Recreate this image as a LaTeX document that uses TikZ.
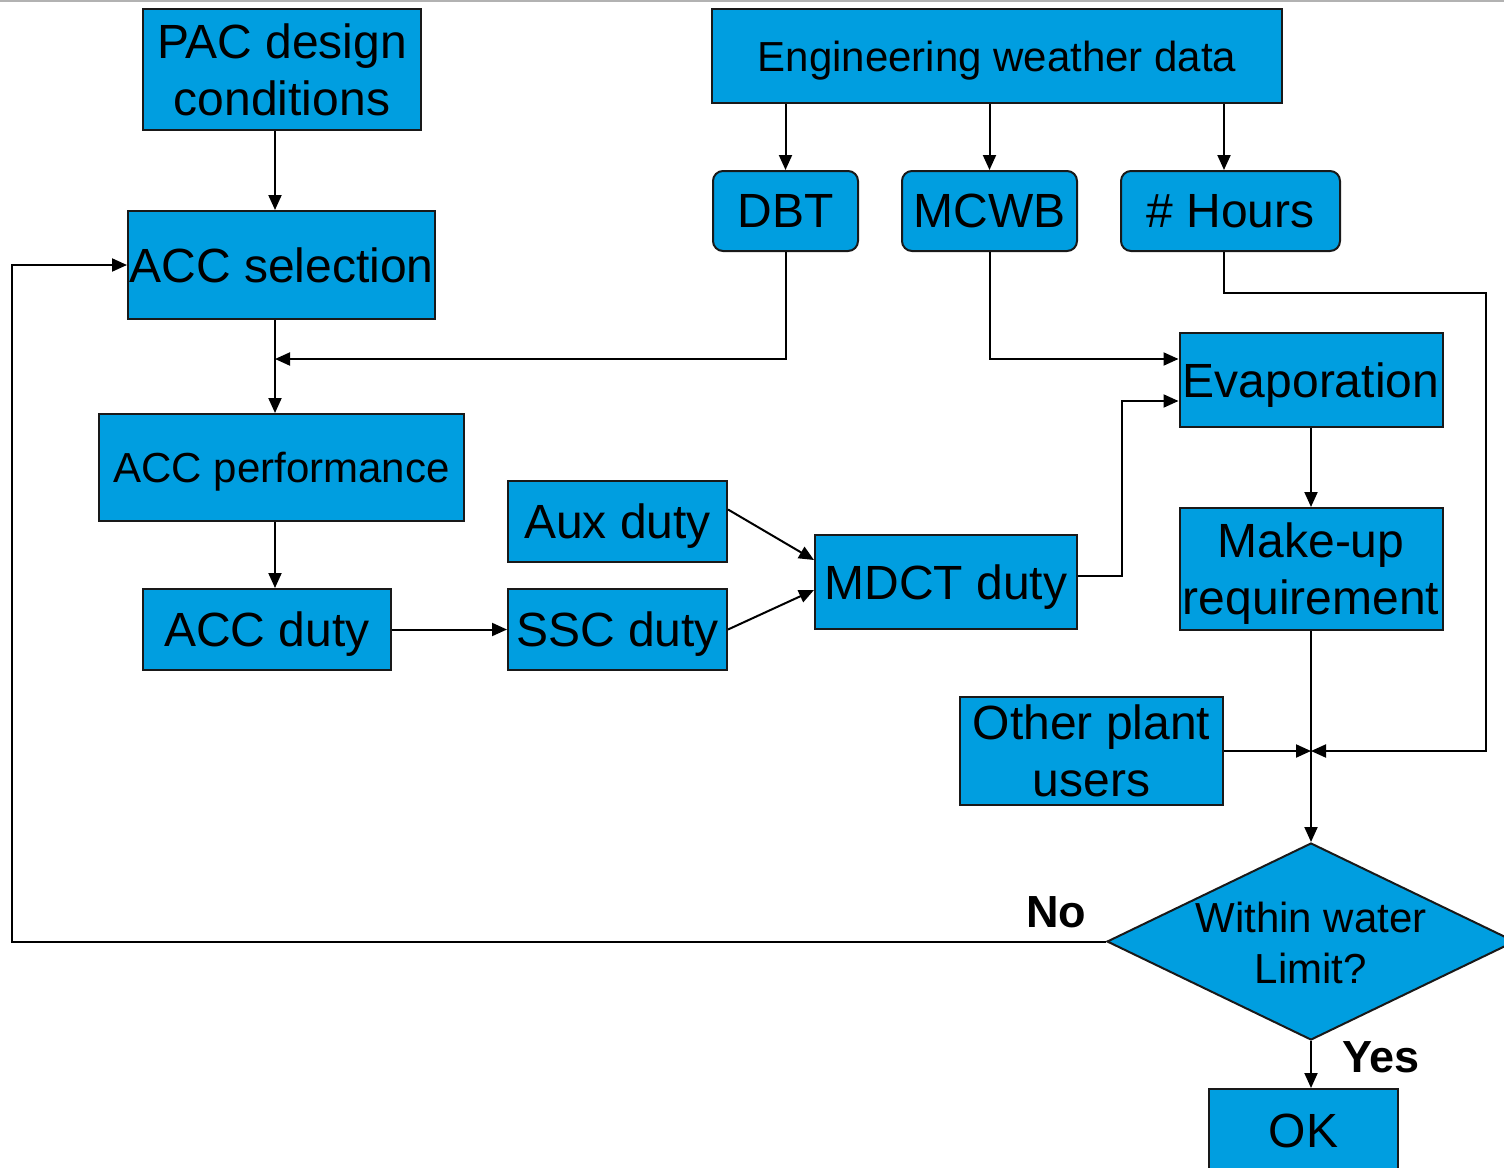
\documentclass[tikz,border=0pt]{standalone}
\usepackage{fontspec}
\setmainfont{Liberation Sans}
\usetikzlibrary{arrows.meta,shapes.geometric}
\definecolor{boxblue}{RGB}{0,158,224}
\begin{document}
\begin{tikzpicture}[x=1pt,y=-1pt,
  box/.style={draw=black!90, line width=2pt, fill=boxblue, inner sep=0pt, align=center, text depth=0pt, font=\fontsize{48}{57}\selectfont},
  rbox/.style={box, rounded corners=10pt},
  smalltxt/.style={font=\fontsize{42}{51}\selectfont},
  conn/.style={line width=2pt, -{Triangle[length=15pt,width=13pt]}},
  lbl/.style={font=\fontsize{45}{50}\selectfont\bfseries, inner sep=0pt}
]
\useasboundingbox (0,0) rectangle (1504,1167);
\draw[black!30, line width=1.5pt] (0,0.75) -- (1504,0.75);

\node[box, minimum width=278, minimum height=121] (pac) at (282,69.5) {PAC design\\conditions};
\node[box, smalltxt, minimum width=570, minimum height=94] (eng) at (997,56) {Engineering weather data};
\node[rbox, minimum width=145, minimum height=80] (dbt) at (785.5,211) {DBT};
\node[rbox, minimum width=175, minimum height=80] (mcwb) at (989.5,211) {MCWB};
\node[rbox, minimum width=219, minimum height=80] (hours) at (1230.5,211) {\# Hours};
\node[box, minimum width=307, minimum height=108] (accsel) at (281.5,265) {ACC selection};
\node[box, minimum width=263, minimum height=94] (evap) at (1311,380) {Evaporation};
\node[box, smalltxt, minimum width=365, minimum height=107] (accperf) at (281.5,467.5) {ACC performance};
\node[box, minimum width=219, minimum height=81] (aux) at (617.5,521.5) {Aux duty};
\node[box, minimum width=262, minimum height=94] (mdct) at (946,582) {MDCT duty};
\node[box, minimum width=263, minimum height=122] (makeup) at (1311,569) {Make-up\\requirement};
\node[box, minimum width=248, minimum height=81] (accduty) at (267,629.5) {ACC duty};
\node[box, minimum width=219, minimum height=81] (ssc) at (617.5,629.5) {SSC duty};
\node[box, minimum width=263, minimum height=108] (other) at (1091.5,751) {Other plant\\users};
\node[box, diamond, minimum width=408, minimum height=197] (dec) at (1311,941.5) {};
\node[smalltxt, align=center, inner sep=0pt, text depth=0pt] (dectext) at (1311,943) {Within water\\Limit?};
\node[box, minimum width=189, minimum height=84] (ok) at (1303.5,1131) {OK};

\node[lbl] (no) at (1056,912) {No};
\node[lbl] (yes) at (1381,1057) {Yes};

\coordinate (spine) at (275,0);
\coordinate (hx) at (1224,0);
\coordinate (loopx) at (12,0);
\coordinate (j1) at (275,359);
\coordinate (jn) at (makeup.south |- other.east);

\draw[conn] (pac.south -| spine) -- (accsel.north -| spine);
\draw[conn] (accsel.south -| spine) -- (accperf.north -| spine);
\draw[conn] (accperf.south -| spine) -- (accduty.north -| spine);
\draw[conn] (eng.south -| dbt) -- (dbt.north);
\draw[conn] (eng.south -| mcwb) -- (mcwb.north);
\draw[conn] (eng.south -| hx) -- (hours.north -| hx);
\draw[conn] (dbt.south) |- (j1);
\draw[conn] (mcwb.south) |- ([yshift=21pt]evap.west);
\draw[conn] ([yshift=6pt]mdct.east) -- ++(44,0) |- ([yshift=-21pt]evap.west);
\draw[conn] (hours.south -| hx) -- ++(0,41) -- ++(262,0) |- (jn);
\draw[conn] (other.east) -- (jn);
\draw[conn] (evap.south) -- (makeup.north);
\draw[conn] (makeup.south) -- (dec.north);
\draw[conn] (accduty.east) -- (ssc.west);
\draw[conn] ([yshift=12pt]aux.east) -- ([yshift=22pt]mdct.west);
\draw[conn] (ssc.east) -- ([yshift=-8pt]mdct.west);
\draw[conn] (dec.west) -- (dec.west -| loopx) |- (accsel.west);
\draw[conn] (dec.south) -- (ok.north -| dec.south);
\end{tikzpicture}
\end{document}
